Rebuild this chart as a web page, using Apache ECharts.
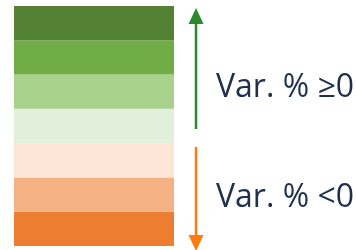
<!DOCTYPE html>
<html>
<head>
<meta charset="utf-8">
<style>
  html, body { margin: 0; padding: 0; background: #ffffff; }
  #chart { width: 356px; height: 250px; }
</style>
<script src="https://cdn.jsdelivr.net/npm/echarts@6/dist/echarts.min.js"></script>
</head>
<body>
<div id="chart"></div>
<script>
// Data
var categories = ['Var. %'];
// Seven bands from bottom (most negative) to top (most positive), equal size
var bandNames = ['<< 0', '< 0', '≈ 0 (neg)', '≈ 0 (pos)', '> 0', '>> 0', '>>> 0'];
var bandValues = [1, 1, 1, 1, 1, 1, 1];
var labelUp = 'Var. % ≥0';
var labelDown = 'Var. % <0';

// Styles
var bandColors = ['#ED7D31', '#F4B183', '#FCE4D6', '#E2EFDA', '#A9D18E', '#70AD47', '#548235'];
var upColor = '#2B8A2B';
var downColor = '#FF7B10';
var textColor = '#1F2F4C';

var chart = echarts.init(document.getElementById('chart'), null, { renderer: 'canvas' });

var series = bandValues.map(function (v, i) {
  return {
    name: bandNames[i],
    type: 'bar',
    stack: 'scale',
    barWidth: '100%',
    data: [v],
    itemStyle: { color: bandColors[i] },
    silent: true
  };
});

var total = bandValues.reduce(function (a, b) { return a + b; }, 0);

chart.setOption({
  animation: false,
  backgroundColor: '#ffffff',
  grid: { left: 14, top: 6, width: 160, height: 240 },
  xAxis: { type: 'category', data: categories, show: false },
  yAxis: { type: 'value', min: 0, max: total, show: false },
  series: series,
  graphic: [
    { type: 'line', shape: { x1: 196, y1: 22, x2: 196, y2: 129 }, style: { stroke: upColor, lineWidth: 2.5 } },
    { type: 'polygon', shape: { points: [[196, 8], [188.5, 24], [203.5, 24]] }, style: { fill: upColor } },
    { type: 'line', shape: { x1: 196, y1: 147, x2: 196, y2: 238 }, style: { stroke: downColor, lineWidth: 2.5 } },
    { type: 'polygon', shape: { points: [[196, 251], [188.5, 235], [203.5, 235]] }, style: { fill: downColor } },
    { type: 'text', left: 216, top: 72, style: { text: labelUp, font: '32px "Open Sans"', fill: textColor } },
    { type: 'text', left: 216, top: 182, style: { text: labelDown, font: '32px "Open Sans"', fill: textColor } }
  ]
});
</script>
</body>
</html>
